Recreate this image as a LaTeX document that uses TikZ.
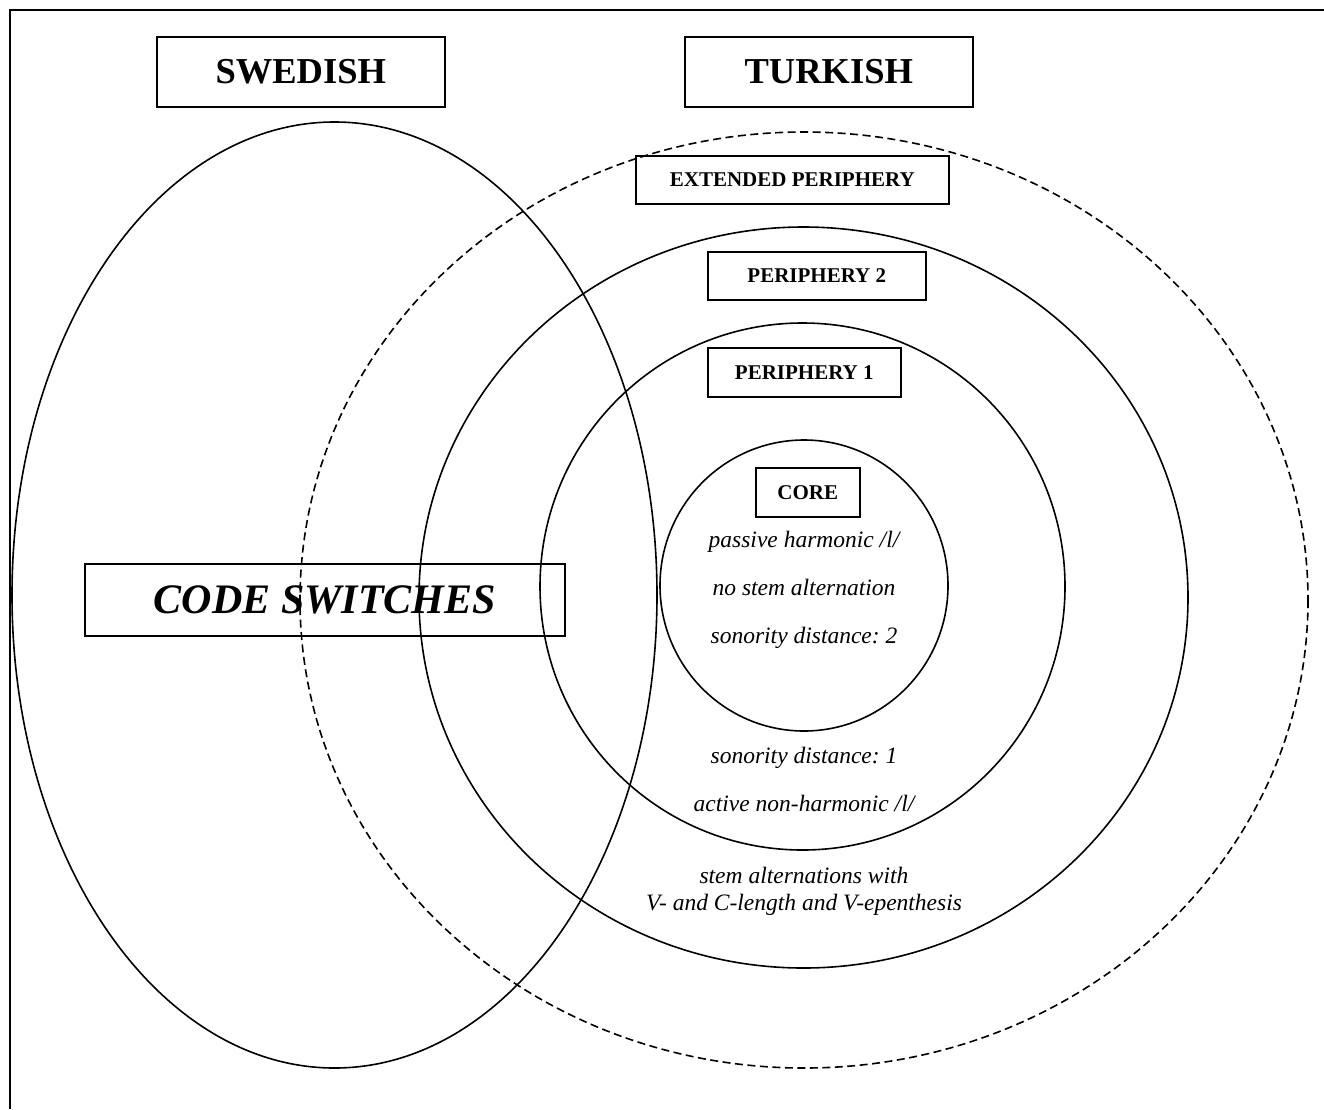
\documentclass[tikz,border=0pt]{standalone}
\usepackage{fontspec}
\setmainfont{Liberation Serif}
\frenchspacing
\begin{document}
\begin{tikzpicture}[x=1pt,y=-1pt,
  line/.style={line width=1.6pt},
  labelbox/.style={draw,line width=1.6pt,inner sep=0pt,anchor=north west,align=center},
  bigbox/.style={labelbox,font=\fontsize{36.5}{40}\selectfont\bfseries},
  smallbox/.style={labelbox,font=\fontsize{21}{24}\selectfont\bfseries},
  itxt/.style={anchor=base,inner sep=0pt,font=\fontsize{23.5}{26}\selectfont\itshape\frenchspacing}]
\useasboundingbox (0,0) rectangle (1324,1109);
% frame
\coordinate (fbl) at (10,1109);
\coordinate (ftl) at (10,10);
\coordinate (ftr) at (1324,10);
\draw[line] (fbl) -- (ftl) -- (ftr);
% ellipses
\draw[line] (334.5,595) ellipse [x radius=322.5, y radius=473];
\draw[line,dash pattern=on 8pt off 4.5pt] (804,600) ellipse [x radius=504, y radius=468];
\draw[line] (803.5,597.5) ellipse [x radius=384.5, y radius=370.5];
\draw[line] (802.5,586.5) ellipse [x radius=262.5, y radius=263.5];
\draw[line] (804,585.5) ellipse [x radius=144, y radius=145.5];
% boxes
\node[bigbox,minimum width=288pt,minimum height=70pt] (sw) at (156,36) {SWEDISH};
\node[bigbox,minimum width=288pt,minimum height=70pt] (tr) at (684,36) {TURKISH};
\node[smallbox,minimum width=313pt,minimum height=48pt] (ext) at (635,155) {EXTENDED PERIPHERY};
\node[smallbox,minimum width=218pt,minimum height=48pt] (p2) at (707,251) {PERIPHERY 2};
\node[smallbox,minimum width=193pt,minimum height=49pt] (p1) at (707,347) {PERIPHERY 1};
\node[smallbox,minimum width=104pt,minimum height=49pt] (core) at (755,467) {CORE};
\node[labelbox,minimum width=480pt,minimum height=72pt,font=\fontsize{42}{46}\selectfont\bfseries\itshape] (cs) at (84,563) {CODE SWITCHES};
% texts
\node[itxt] (t1) at (804,547) {passive harmonic /l/};
\node[itxt] (t2) at (804,595) {no stem alternation};
\node[itxt] (t3) at (804,643) {sonority distance: 2};
\node[itxt] (t4) at (804,763) {sonority distance: 1};
\node[itxt] (t5) at (804,811) {active non-harmonic /l/};
\node[itxt] (t6) at (804,883) {stem alternations with};
\node[itxt] (t7) at (804,910) {V- and C-length and V-epenthesis};
\end{tikzpicture}
\end{document}
